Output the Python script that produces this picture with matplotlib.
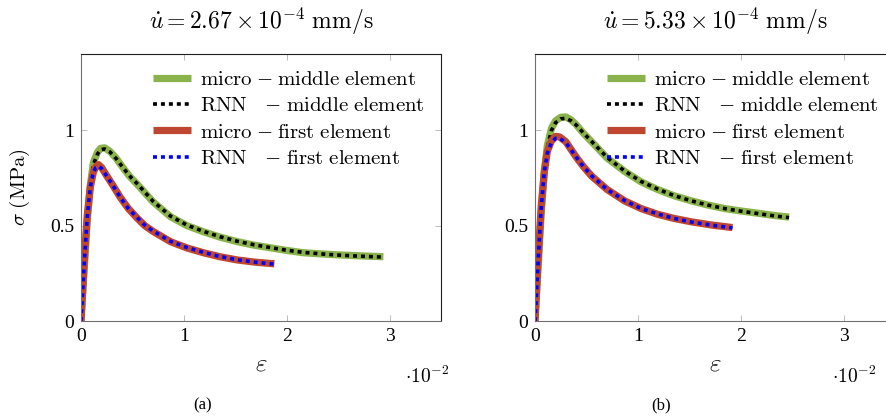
import matplotlib
matplotlib.use('Agg')
import matplotlib.pyplot as plt

plt.rcParams['mathtext.fontset'] = 'cm'
plt.rcParams['font.family'] = ['Liberation Serif', 'DejaVu Serif']

# strain in units of 1e-2, stress in MPa
# panel (a): u_dot = 2.67e-4 mm/s
eps_mid_a = [0, 0.03, 0.06, 0.09, 0.12, 0.16, 0.19, 0.23, 0.28, 0.34, 0.40, 0.47, 0.55, 0.70, 0.87, 1.03, 1.19, 1.35, 1.52, 1.68, 1.84, 2.00, 2.16, 2.33, 2.49, 2.70, 2.94]
sig_mid_a = [0, 0.26, 0.52, 0.71, 0.83, 0.885, 0.905, 0.908, 0.89, 0.855, 0.81, 0.76, 0.715, 0.625, 0.547, 0.50, 0.468, 0.44, 0.416, 0.398, 0.384, 0.37, 0.358, 0.352, 0.347, 0.342, 0.337]
rnn_mid_a = [0, 0.25, 0.51, 0.70, 0.82, 0.875, 0.898, 0.902, 0.887, 0.853, 0.81, 0.762, 0.718, 0.628, 0.55, 0.503, 0.47, 0.442, 0.418, 0.40, 0.385, 0.371, 0.36, 0.352, 0.346, 0.34, 0.335]
eps_fst_a = [0, 0.03, 0.06, 0.09, 0.12, 0.145, 0.17, 0.20, 0.24, 0.30, 0.38, 0.46, 0.545, 0.62, 0.70, 0.87, 1.03, 1.19, 1.35, 1.52, 1.70, 1.88]
sig_fst_a = [0, 0.30, 0.55, 0.70, 0.78, 0.81, 0.82, 0.805, 0.77, 0.72, 0.65, 0.59, 0.54, 0.50, 0.47, 0.416, 0.383, 0.358, 0.337, 0.32, 0.308, 0.30]
rnn_fst_a = [0, 0.29, 0.54, 0.70, 0.78, 0.805, 0.812, 0.80, 0.768, 0.72, 0.65, 0.59, 0.543, 0.503, 0.472, 0.418, 0.385, 0.36, 0.338, 0.321, 0.308, 0.298]

# panel (b): u_dot = 5.33e-4 mm/s
eps_mid_b = [0, 0.03, 0.06, 0.09, 0.12, 0.16, 0.20, 0.25, 0.30, 0.35, 0.40, 0.47, 0.55, 0.70, 0.87, 1.03, 1.19, 1.35, 1.52, 1.68, 1.84, 2.00, 2.17, 2.33, 2.47]
sig_mid_b = [0, 0.28, 0.56, 0.78, 0.92, 1.01, 1.05, 1.068, 1.07, 1.055, 1.03, 0.985, 0.94, 0.855, 0.785, 0.73, 0.69, 0.657, 0.63, 0.608, 0.59, 0.577, 0.565, 0.553, 0.545]
rnn_mid_b = [0, 0.27, 0.55, 0.77, 0.91, 1.00, 1.04, 1.06, 1.063, 1.05, 1.028, 0.986, 0.942, 0.858, 0.787, 0.732, 0.692, 0.658, 0.63, 0.608, 0.59, 0.576, 0.563, 0.551, 0.542]
eps_fst_b = [0, 0.03, 0.06, 0.09, 0.12, 0.16, 0.20, 0.24, 0.30, 0.35, 0.40, 0.47, 0.55, 0.70, 0.87, 1.03, 1.19, 1.35, 1.52, 1.72, 1.92]
sig_fst_b = [0, 0.32, 0.60, 0.78, 0.89, 0.945, 0.968, 0.965, 0.94, 0.90, 0.86, 0.81, 0.76, 0.69, 0.63, 0.59, 0.56, 0.538, 0.52, 0.503, 0.49]
rnn_fst_b = [0, 0.31, 0.59, 0.78, 0.88, 0.935, 0.958, 0.958, 0.935, 0.898, 0.86, 0.81, 0.762, 0.69, 0.632, 0.59, 0.562, 0.538, 0.519, 0.502, 0.488]

titles = [r'$\dot{u} = 2.67 \times 10^{-4}\ \mathrm{mm/s}$',
          r'$\dot{u} = 5.33 \times 10^{-4}\ \mathrm{mm/s}$']
captions = ['(a)', '(b)']
labels = [r'$\mathrm{micro}\;{-}\;\mathrm{middle\ element}$',
          r'$\mathrm{RNN}\quad{-}\;\mathrm{middle\ element}$',
          r'$\mathrm{micro}\;{-}\;\mathrm{first\ element}$',
          r'$\mathrm{RNN}\quad{-}\;\mathrm{first\ element}$']

green = '#8ab44b'
red = '#bf4630'

panels = [(eps_mid_a, sig_mid_a, rnn_mid_a, eps_fst_a, sig_fst_a, rnn_fst_a),
          (eps_mid_b, sig_mid_b, rnn_mid_b, eps_fst_b, sig_fst_b, rnn_fst_b)]

fig = plt.figure(figsize=(8.86, 4.16), dpi=100)
lefts = [81 / 886, 535 / 886]
exp_x = [405 / 886, 832 / 886]
cap_x = [203 / 886, 661 / 886]

for i, (em, sm, rm, ef, sf, rf) in enumerate(panels):
    ax = fig.add_axes([lefts[i], 95 / 416, 360 / 886, 267 / 416])
    ax.plot(em, sm, color=green, lw=5.2, solid_capstyle='butt', label=labels[0])
    ax.plot(em, rm, color='black', lw=2.6, dashes=(1.1, 1.1), dash_capstyle='butt', label=labels[1])
    ax.plot(ef, sf, color=red, lw=5.2, solid_capstyle='butt', label=labels[2])
    ax.plot(ef, rf, color='blue', lw=2.6, dashes=(1.1, 1.1), dash_capstyle='butt', label=labels[3])

    ax.set_xlim(0, 3.5)
    ax.set_ylim(0, 1.4)
    ax.set_xticks([0, 1, 2, 3])
    ax.set_xticklabels(['0', '1', '2', '3'])
    ax.set_yticks([0, 0.5, 1])
    ax.set_yticklabels(['0', '0.5', '1'])
    ax.tick_params(direction='in', length=4, width=0.6, color='#b0b0b0',
                   top=True, right=True, labelsize=14, pad=5)
    for s in ax.spines.values():
        s.set_linewidth(0.8)
        s.set_color('#202020')
    ax.spines['bottom'].set_color('#707070')
    ax.spines['left'].set_color('#707070')

    ax.set_title(titles[i], fontsize=17, pad=18)
    ax.set_xlabel(r'$\varepsilon$', fontsize=18, labelpad=6)
    if i == 0:
        ax.set_ylabel(r'$\sigma\ \mathrm{(MPa)}$', fontsize=15, labelpad=13)

    ax.legend(loc='upper right', bbox_to_anchor=(0.99, 0.985), frameon=False,
              fontsize=15, handlelength=1.8, handletextpad=0.45, labelspacing=0.32,
              borderaxespad=0.2)

    fig.text(exp_x[i], 40 / 416, r'$\cdot 10^{-2}$', fontsize=14,
             ha='left', va='center', family='Liberation Serif')
    fig.text(cap_x[i], 11 / 416, captions[i], fontsize=12, ha='center', va='center')

fig.savefig('out.png', dpi=100)
